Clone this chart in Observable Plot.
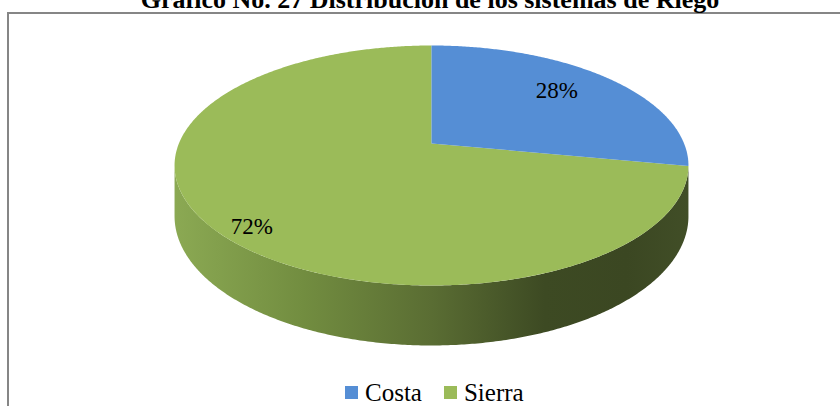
<!DOCTYPE html>
<html><head><meta charset="utf-8">
<script src="https://cdn.jsdelivr.net/npm/d3@7"></script>
<script src="https://cdn.jsdelivr.net/npm/@observablehq/plot@0.6"></script>
<style>
html,body{margin:0;padding:0;background:#fff;overflow:hidden}
#wrap{position:relative;width:840px;height:406px;overflow:hidden;background:#fff}
#frame{position:absolute;left:7px;top:12px;width:900px;height:500px;border:2px solid #868686;box-sizing:border-box}
#title{position:absolute;left:0;width:860px;text-align:center;top:-15px;line-height:26px;font:bold 26px "Liberation Serif","Times New Roman",serif;white-space:nowrap;color:#000}
#chart{position:absolute;left:0;top:0}
#legend{position:absolute;left:345px;top:380px;display:flex;align-items:baseline;font:25px "Liberation Serif","Times New Roman",serif;line-height:25px;white-space:nowrap;color:#000}
#legend .sw{display:inline-block;width:13px;height:13px;vertical-align:2px;margin-right:7px}
#legend .it{margin-right:22px}
</style>
</head><body>
<div id="wrap">
  <div id="frame"></div>
  <div id="title"></div>
  <div id="chart"></div>
  <div id="legend"></div>
</div>
<script>
// ---- data ----
const titleText = "Gráfico No. 27 Distribución de los sistemas de Riego";
const categories = ["Costa", "Sierra"];
const values = [28, 72];
const labels = ["28%", "72%"];
const colors = ["#558ed5", "#9bbb59"];

// ---- layout (perspective pie geometry) ----
const CX = 431, RX = 252.6, Y0 = 143, A = 89.75, C = -0.1833, DEPTH = 49;
const labelR = 0.8;
const labelNudge = [[-17, 1], [-8, 18]];

function proj(thetaDeg, r, drop) {
  const t = thetaDeg * Math.PI / 180;
  const u = r * Math.sin(t), v = -r * Math.cos(t);
  const den = 1 + C * v;
  return {x: CX + RX * u / den, y: (A * v + Y0) / den + (drop ? DEPTH / den : 0)};
}

const total = d3.sum(values);
let acc = 0;
const slices = categories.map((c, i) => {
  const a0 = acc / total * 360; acc += values[i];
  const a1 = acc / total * 360;
  return {cat: c, a0, a1, color: colors[i], label: labels[i]};
});

function wedge(s) {
  const pts = [{...proj(0, 0, false), id: s.cat}];
  const n = Math.max(2, Math.ceil((s.a1 - s.a0) / 0.5));
  for (let k = 0; k <= n; k++) pts.push({...proj(s.a0 + (s.a1 - s.a0) * k / n, 1, false), id: s.cat});
  return pts;
}

// front side band between the silhouette extremes
const tStart = Math.acos(C) * 180 / Math.PI;
const tEnd = 360 - tStart;
const side = [];
for (let t = tStart; t <= tEnd + 1e-9; t += 0.5) side.push(proj(t, 1, false));
for (let t = tEnd; t >= tStart - 1e-9; t -= 0.5) side.push(proj(t, 1, true));

const labelPts = slices.map((s, i) => {
  const p = proj((s.a0 + s.a1) / 2, labelR, false);
  return {x: p.x + labelNudge[i][0], y: p.y + labelNudge[i][1], text: s.label};
});

const marks = [
  Plot.line(side, {x: "x", y: "y", fill: "url(#sideGrad)", stroke: "none", curve: "linear-closed"}),
  ...slices.slice().reverse().map(s => Plot.line(wedge(s), {x: "x", y: "y", fill: s.color, stroke: "none", curve: "linear-closed"})),
  Plot.text(labelPts, {x: "x", y: "y", text: "text", fontSize: 23, fontFamily: "Liberation Serif", fill: "#000"})
];

const svg = Plot.plot({
  width: 840, height: 406, margin: 0,
  x: {type: "identity", axis: null},
  y: {type: "identity", axis: null},
  style: {background: "transparent", overflow: "visible"},
  marks
});

d3.select(svg).selectAll("text").style("font-family", "'Liberation Serif','Times New Roman',serif");

// gradient for the side
const xs = side.map(d => d.x);
const defs = d3.select(svg).insert("defs", ":first-child");
const g = defs.append("linearGradient").attr("id", "sideGrad").attr("gradientUnits", "userSpaceOnUse")
  .attr("x1", d3.min(xs)).attr("x2", d3.max(xs)).attr("y1", 0).attr("y2", 0);
[[0, "#8ba953"], [0.25, "#728d40"], [0.5, "#5a6d33"], [0.72, "#3d4a23"], [0.88, "#3b4722"], [1, "#414e27"]]
  .forEach(([o, c]) => g.append("stop").attr("offset", o).attr("stop-color", c));

document.getElementById("chart").appendChild(svg);
document.getElementById("title").textContent = titleText;

const leg = document.getElementById("legend");
categories.forEach((c, i) => {
  const it = document.createElement("span");
  it.className = "it";
  const sw = document.createElement("span");
  sw.className = "sw"; sw.style.background = colors[i];
  it.appendChild(sw);
  it.appendChild(document.createTextNode(c));
  leg.appendChild(it);
});
</script>
</body></html>
